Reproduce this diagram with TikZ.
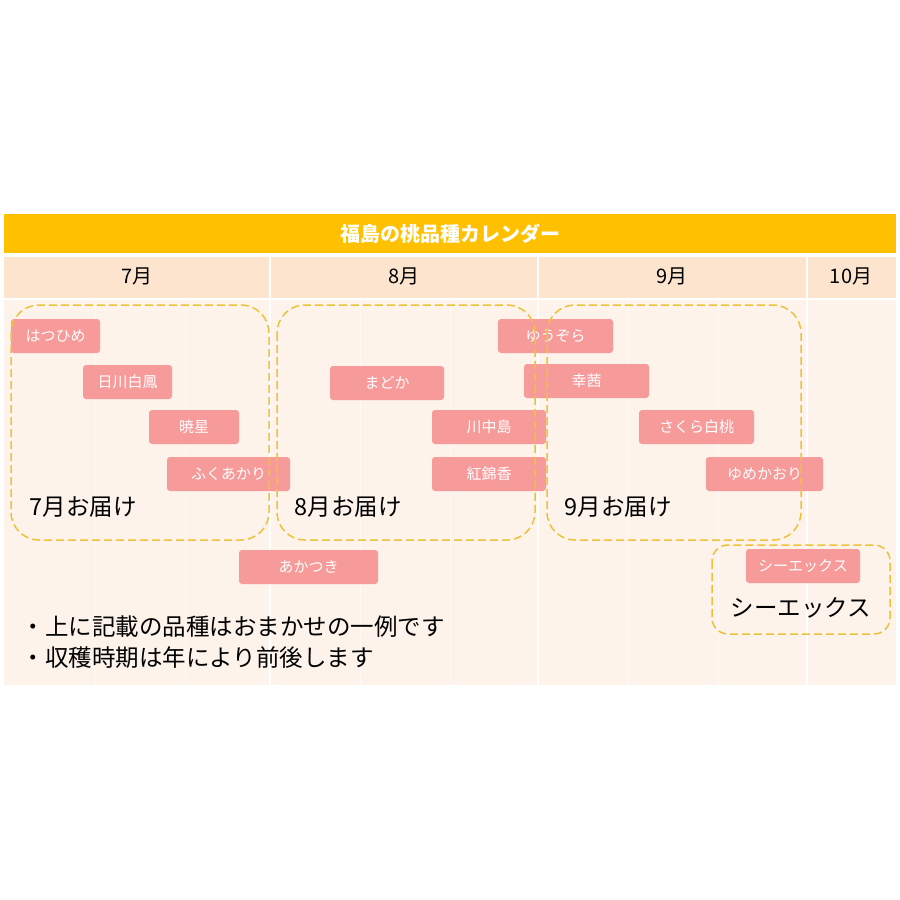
\documentclass[tikz,border=0pt]{standalone}
\usepackage{fontspec}
\setmainfont{Noto Sans CJK JP}
\usetikzlibrary{positioning}
\definecolor{gold}{HTML}{FFC000}
\definecolor{headbg}{HTML}{FCE4CF}
\definecolor{bodybg}{HTML}{FDF3EA}
\definecolor{barpink}{HTML}{F79A9A}
\definecolor{dashgold}{HTML}{EDC23A}
\begin{document}
\begin{tikzpicture}[x=1pt,y=-1pt,
  bar/.style={fill=barpink,rounded corners=3pt,draw=none},
  bartext/.style={text=white,font=\fontsize{15}{15}\selectfont},
  group/.style={draw=dashgold,line width=1.5pt,dash pattern=on 8pt off 4pt,rounded corners=28pt},
  label/.style={font=\fontsize{23.5}{24}\selectfont,anchor=west}]
		\useasboundingbox (0,0) rectangle (900,900);
		\fill[white] (0,0) rectangle (900,900);
		% title and month header
		\fill[gold] (4,214) rectangle (896,253);
		\node[text=white,font=\bfseries\fontsize{20}{20}\selectfont] (title) at (450,234) {福島の桃品種カレンダー};
		\fill[headbg] (4,257) rectangle (896,298);
		\fill[bodybg] (4,300) rectangle (896,685);
		\foreach \x in {95,185,360,450,628,718}
			\draw[white!60!bodybg,line width=1pt] (\x,300) -- (\x,685);
		\foreach \x in {270,538,807}
			\draw[white,line width=2pt] (\x,257) -- (\x,685);
		\node[font=\fontsize{20}{20}\selectfont] (jul) at (137,276) {7月};
		\node[font=\fontsize{20}{20}\selectfont] (aug) at (404,276) {8月};
		\node[font=\fontsize{20}{20}\selectfont] (sep) at (672,276) {9月};
		\node[font=\fontsize{20}{20}\selectfont] (oct) at (851,276) {10月};

		% varieties
		\foreach \xa/\xb/\ya/\name in {11/100/319/はつひめ, 83/172/365/日川白鳳, 149/239/410/暁星,
			167/290/457/ふくあかり, 330/444/366/まどか, 432/546/410/川中島, 432/546/457/紅錦香,
			498/613/319/ゆうぞら, 524/649/364/幸茜, 639/754/410/さくら白桃, 706/823/457/ゆめかおり,
			239/378/550/あかつき, 746/860/549/シーエックス}
		{
			\fill[bar] (\xa,\ya) rectangle (\xb,\ya+34);
			\node[bartext] at ({(\xa+\xb)/2},\ya+17) {\name};
		}

		% delivery groups
		\draw[group] (11,305) rectangle (269,540);
		\draw[group] (277,305) rectangle (535,540);
		\draw[group] (547,305) rectangle (801,540);
		\draw[group,rounded corners=16pt] (712,545) rectangle (890,634);
		\node[label] (julg) at (26,507) {7月お届け};
		\node[label] (augg) at (291,507) {8月お届け};
		\node[label] (sepg) at (561,507) {9月お届け};
		\node[label,anchor=center] (cx) at (801,608) {シーエックス};

		% notes
		\node[label] (note1) at (18,627) {・上に記載の品種はおまかせの一例です};
		\node[label] (note2) at (18,658) {・収穫時期は年により前後します};
\end{tikzpicture}
\end{document}
